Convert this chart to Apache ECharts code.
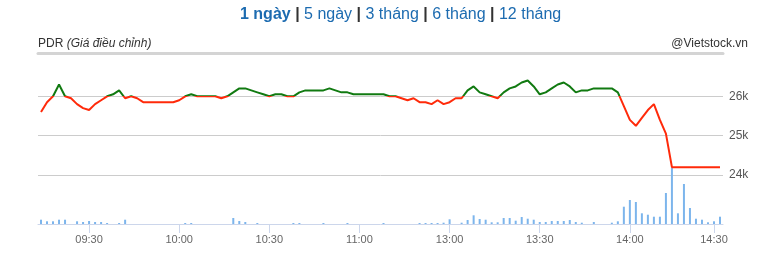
<!DOCTYPE html>
<html><head><meta charset="utf-8">
<script src="https://cdn.jsdelivr.net/npm/echarts@6/dist/echarts.min.js"></script>
<style>html,body{margin:0;padding:0;background:#fff;}#c{width:780px;height:269px;}</style>
</head><body><div id="c"></div>
<script>
// x positions are trading-minute slots on the session axis (lunch break removed)
const priceSlots = [14,16,18,20,22,24,26,28,30,32,34,36,38,40,42,44,46,48,50,52,54,56,58,60,62,64,66,68,70,72,74,76,78,80,82,84,86,88,90,92,94,96,98,100,102,104,106,108,110,112,114,116,118,120,122,124,126,128,130,132,134,136,138,140,142,144,146,148,150,152,154,156,158,160,162,164,166,168,170,172,174,176,178,180,182,184,186,188,190,192,194,196,198,200,202,204,206,208,210,212,214,216,218,220,222,224,226,228,230,232,234,236,238,240];
const prices = [25.60,25.85,26.00,26.30,26.00,25.95,25.80,25.70,25.65,25.80,25.90,26.00,26.05,26.15,25.95,26.00,25.95,25.85,25.85,25.85,25.85,25.85,25.85,25.90,26.00,26.05,26.00,26.00,26.00,26.00,25.95,26.00,26.10,26.20,26.20,26.15,26.10,26.05,26.00,26.05,26.05,26.00,26.00,26.10,26.15,26.15,26.15,26.15,26.20,26.15,26.10,26.10,26.05,26.05,26.05,26.05,26.05,26.05,26.00,26.00,25.95,25.90,25.95,25.85,25.85,25.80,25.90,25.80,25.85,25.95,25.95,26.15,26.25,26.10,26.05,26.00,25.95,26.10,26.20,26.25,26.35,26.40,26.25,26.05,26.10,26.20,26.30,26.35,26.25,26.10,26.15,26.15,26.20,26.20,26.20,26.20,26.10,25.75,25.40,25.25,25.45,25.65,25.80,25.40,25.05,24.20,24.20,24.20,24.20,24.20,24.20,24.20,24.20,24.20];
const volSlots = [14,16,18,20,22,26,28,30,32,34,36,40,42,62,64,78,80,82,86,98,100,108,116,128,140,142,144,146,148,150,154,156,158,160,162,164,166,168,170,172,174,176,178,180,182,184,186,188,190,192,194,198,204,206,208,210,212,214,216,218,220,222,224,226,228,230,232,234,236,238,240];
const volumes = [43,27,27,43,43,27,20,30,20,20,10,10,43,10,10,60,30,20,10,10,10,10,10,10,10,10,10,10,13,47,13,40,87,50,43,17,17,60,60,33,70,53,43,20,20,30,30,30,40,20,13,20,13,27,173,240,220,107,93,73,73,310,567,107,400,160,53,43,17,27,73];
const tickSlots = [30,60,90,120,150,180,210,238];
const tickLabels = ['09:30','10:00','10:30','11:00','13:00','13:30','14:00','14:30'];
const priceTicks = [24,25,26];
const refPrice = 26;
const periods = ['1 ngày','5 ngày','3 tháng','6 tháng','12 tháng'];

const FONT = '"Liberation Sans", Arial, sans-serif';
const chart = echarts.init(document.getElementById('c'), null, {renderer:'canvas'});
const headerText = periods.map((p,i)=> (i===0?'{a|':'{n|') + p + '}').join('{s| | }');
const priceData = priceSlots.map((s,i)=>[s,prices[i]]);
const volData = volSlots.map((s,i)=>[s,volumes[i]]);
const slotLabel = v => { const k = tickSlots.indexOf(v); return k>=0 ? tickLabels[k] : ''; };

chart.setOption({
  animation:false,
  backgroundColor:'#fff',
  textStyle:{fontFamily:FONT},
  title:[
    {left:240, top:7, padding:0, text:headerText,
     textStyle:{fontWeight:'normal', rich:{
       a:{fontFamily:FONT,fontSize:16,fontWeight:'bold',color:'#1c6bb0'},
       n:{fontFamily:FONT,fontSize:16,fontWeight:'normal',color:'#1c6bb0'},
       s:{fontFamily:FONT,fontSize:16,fontWeight:'bold',color:'#333'}}}},
    {left:38, top:38, padding:0, text:'{p|PDR }{i|(Giá điều chỉnh)}',
     textStyle:{fontWeight:'normal', rich:{
       p:{fontFamily:FONT,fontSize:12,fontWeight:'normal',color:'#333'},
       i:{fontFamily:FONT,fontSize:12,fontWeight:'normal',fontStyle:'italic',color:'#333'}}}},
    {right:32, top:38, padding:0, text:'@Vietstock.vn', textStyle:{fontFamily:FONT,fontSize:12,fontWeight:'normal',color:'#333'}}
  ],
  grid:[
    {left:38, right:57, top:53, height:122},
    {left:38, right:57, bottom:45, height:60}
  ],
  xAxis:[
    {type:'value', gridIndex:0, min:13, max:241, position:'top',
     axisLine:{show:true, lineStyle:{color:'#d4d4d4', width:3}},
     axisTick:{show:false}, axisLabel:{show:false}, splitLine:{show:false}},
    {type:'value', gridIndex:1, min:13, max:241,
     axisLine:{show:true, lineStyle:{color:'#ccd6eb', width:1}},
     axisTick:{show:true, customValues:tickSlots, length:9, lineStyle:{color:'#ccd6eb'}},
     axisLabel:{show:true, customValues:tickSlots, formatter:slotLabel, color:'#666', fontSize:11, margin:10, fontFamily:FONT},
     splitLine:{show:false}}
  ],
  yAxis:[
    {type:'value', gridIndex:0, min:24, max:27.1, position:'right',
     axisLine:{show:false},
     axisTick:{show:false, customValues:priceTicks},
     axisLabel:{customValues:priceTicks, formatter:v=>v+'k', color:'#555', fontSize:12, margin:6, fontFamily:FONT},
     splitLine:{show:true, lineStyle:{color:'#cccccc', width:1}}},
    {type:'value', gridIndex:1, min:0, max:600, show:false, splitLine:{show:false}}
  ],
  visualMap:{type:'piecewise', show:false, seriesIndex:0, dimension:1,
    pieces:[{gt:refPrice, lte:40, color:'#117a11'},{gte:10, lte:refPrice, color:'#ff2a0a'}]},
  series:[
    {type:'line', xAxisIndex:0, yAxisIndex:0, data:priceData, symbol:'none', lineStyle:{width:2}, z:3},
    {type:'bar', xAxisIndex:1, yAxisIndex:1, data:volData, barWidth:2, itemStyle:{color:'#7cb5ec'}, z:2}
  ]
});
</script></body></html>
